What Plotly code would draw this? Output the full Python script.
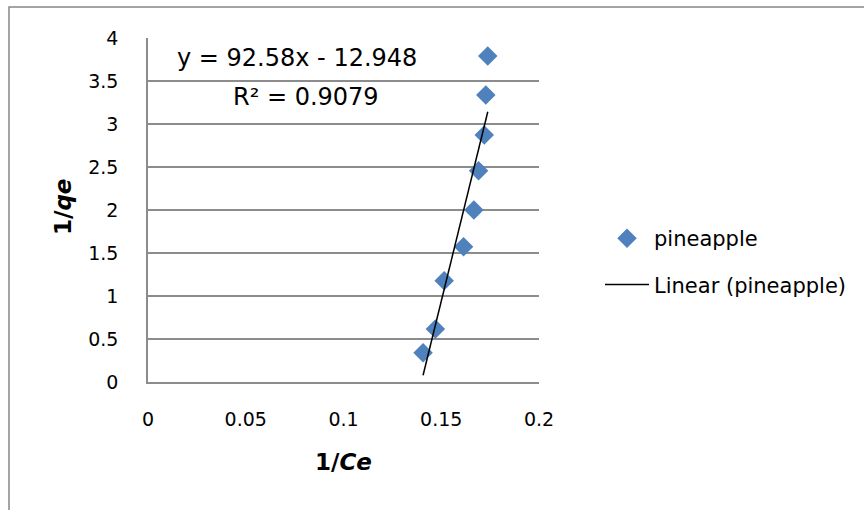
import plotly.graph_objects as go

# Data
inv_ce = [0.1738, 0.1728, 0.1720, 0.1691, 0.1667, 0.1614, 0.1515, 0.1470, 0.1407]
inv_qe = [3.79, 3.337, 2.872, 2.457, 2.00, 1.573, 1.178, 0.616, 0.341]
slope = 92.58
intercept = -12.948
r_squared = 0.9079
x_ticks = [0, 0.05, 0.1, 0.15, 0.2]
y_ticks = [0, 0.5, 1, 1.5, 2, 2.5, 3, 3.5, 4]

FONT = "DejaVu Sans"
GRID = "#8c8c8c"

x_line = [min(inv_ce), max(inv_ce)]
y_line = [slope * v + intercept for v in x_line]

fig = go.Figure()
fig.add_trace(go.Scatter(
    x=inv_ce, y=inv_qe, mode="markers", name="pineapple",
    marker=dict(symbol="diamond", size=15, color="#4F81BD"),
    legendgroup="a",
))
fig.add_trace(go.Scatter(
    x=x_line, y=y_line, mode="lines", name="Linear (pineapple)",
    line=dict(color="black", width=1.5),
    legendgroup="b",
))

W, H = 864, 510
L, R, T, B = 148, 539, 38, 382
pw, ph = R - L, B - T

def px(xp):
    return (xp - L) / pw

def py(yp):
    return (B - yp) / ph

def label(text, x, y, size, angle=0):
    return dict(text=text, x=px(x), y=py(y), xref="paper", yref="paper",
                xanchor="center", yanchor="middle", showarrow=False,
                textangle=angle, font=dict(family=FONT, size=size))

fig.update_layout(
    width=W, height=H,
    margin=dict(l=L, r=W - R, t=T, b=H - B),
    paper_bgcolor="white", plot_bgcolor="white",
    font=dict(family=FONT, size=19, color="black"),
    showlegend=True,
    legend=dict(x=px(600), y=py(218), xanchor="left", yanchor="top",
                font=dict(family=FONT, size=21), tracegroupgap=16,
                itemwidth=44, bgcolor="rgba(0,0,0,0)"),
    xaxis=dict(range=[0, 0.2], tickvals=x_ticks, showgrid=False, zeroline=False,
               showline=True, linecolor=GRID, linewidth=1.5, ticks="",
               ticklabelstandoff=19, tickfont=dict(size=19)),
    yaxis=dict(range=[0, 4], tickvals=y_ticks, showgrid=True, gridcolor=GRID,
               gridwidth=1.5, zeroline=False, showline=True, linecolor=GRID,
               linewidth=1.5, ticks="", ticklabelstandoff=24, tickfont=dict(size=19)),
    annotations=[
        label(f"y = {slope}x - {abs(intercept)}", 296.7, 58.3, 24),
        label(f"R² = {r_squared}", 305.8, 96.7, 24),
        label("<b>1/<i>Ce</i></b>", 343, 462, 23),
        label("<b>1/<i>qe</i></b>", 63, 207, 23, -90),
    ],
    shapes=[
        dict(type="rect", xref="paper", yref="paper",
             x0=px(9), y0=py(520), x1=px(880), y1=py(7),
             line=dict(color="#868686", width=1.5), layer="below"),
    ],
)

fig.write_html("out.html", config={"displayModeBar": False},
               post_script="document.body.style.margin='0';")
